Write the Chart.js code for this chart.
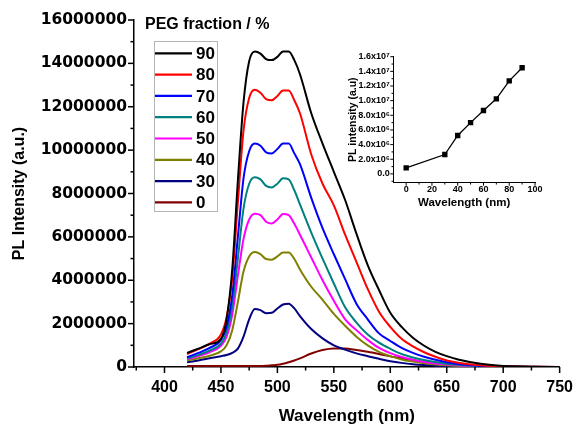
<!DOCTYPE html>
<html><head><meta charset="utf-8">
<script src="https://cdn.jsdelivr.net/npm/chart.js@4.4.0/dist/chart.umd.min.js"></script>
<style>
html,body{margin:0;padding:0;background:#fff;}
#wrap{position:relative;width:578px;height:427px;overflow:hidden;}
#main{position:absolute;left:0;top:0;}
#inset{position:absolute;left:330px;top:45px;}
</style></head><body>
<div id="wrap"><canvas id="main" width="578" height="427"></canvas><canvas id="inset" width="215" height="170"></canvas></div>
<script>
// ---------- main chart data ----------
const wavelengths = [420,430,440,450,455,460,465,470,475,480,485,490,495,500,505,510,515,520,530,540,550,560,570,580,590,600,610,620,630,640,650,660,680,700,750];
const seriesLabels = ['90','80','70','60','50','40','30','0'];
const seriesColors = ['#000000','#ff0000','#0000ff','#008080','#ff00ff','#808000','#000080','#800000'];
const peg90 = [0.65e6,0.85e6,1.05e6,1.3e6,2.2e6,4.5e6,8.6e6,12.2e6,14.1e6,14.55e6,14.45e6,14.2e6,14.15e6,14.3e6,14.55e6,14.55e6,14.15e6,13.5e6,11.7e6,10.3e6,9.0e6,7.7e6,6.15e6,4.7e6,3.55e6,2.5e6,1.85e6,1.35e6,0.98e6,0.7e6,0.5e6,0.35e6,0.15e6,0.05e6,0];
const peg80 = [0.6e6,0.82e6,1.08e6,1.5e6,2.3e6,4.1e6,7.6e6,10.9e6,12.4e6,12.78e6,12.65e6,12.35e6,12.3e6,12.5e6,12.75e6,12.75e6,12.3e6,11.7e6,9.8e6,8.45e6,7.45e6,6.1e6,4.85e6,3.6e6,2.55e6,1.85e6,1.3e6,0.95e6,0.68e6,0.47e6,0.3e6,0.2e6,0.08e6,0.03e6,0];
const peg70 = [0.45e6,0.65e6,0.88e6,1.25e6,1.85e6,3.3e6,6.0e6,8.7e6,9.95e6,10.3e6,10.2e6,9.9e6,9.85e6,10.05e6,10.3e6,10.3e6,9.85e6,9.35e6,7.8e6,6.4e6,5.2e6,4.05e6,2.92e6,2.2e6,1.55e6,1.2e6,0.88e6,0.65e6,0.47e6,0.33e6,0.22e6,0.14e6,0.05e6,0.02e6,0];
const peg60 = [0.4e6,0.56e6,0.76e6,1.08e6,1.6e6,2.8e6,5.0e6,7.3e6,8.45e6,8.75e6,8.65e6,8.35e6,8.28e6,8.45e6,8.7e6,8.65e6,8.15e6,7.5e6,6.2e6,5.0e6,3.85e6,2.75e6,2.05e6,1.5e6,1.12e6,0.84e6,0.6e6,0.44e6,0.32e6,0.23e6,0.15e6,0.1e6,0.04e6,0.02e6,0];
const peg50 = [0.35e6,0.5e6,0.68e6,0.98e6,1.4e6,2.4e6,4.2e6,5.9e6,6.8e6,7.07e6,7.0e6,6.7e6,6.62e6,6.8e6,7.05e6,7.0e6,6.6e6,6.1e6,5.05e6,4.0e6,3.05e6,2.2e6,1.7e6,1.25e6,0.88e6,0.64e6,0.46e6,0.33e6,0.23e6,0.16e6,0.11e6,0.07e6,0.03e6,0.01e6,0];
const peg40 = [0.3e6,0.4e6,0.52e6,0.72e6,1.0e6,1.7e6,3.0e6,4.4e6,5.1e6,5.3e6,5.2e6,4.98e6,4.95e6,5.1e6,5.28e6,5.28e6,4.98e6,4.5e6,3.7e6,3.1e6,2.45e6,1.9e6,1.4e6,1.0e6,0.7e6,0.5e6,0.35e6,0.25e6,0.17e6,0.12e6,0.08e6,0.05e6,0.02e6,0.01e6,0];
const peg30 = [0.22e6,0.3e6,0.4e6,0.5e6,0.55e6,0.65e6,0.85e6,1.4e6,2.2e6,2.68e6,2.62e6,2.48e6,2.5e6,2.7e6,2.88e6,2.92e6,2.7e6,2.35e6,1.75e6,1.32e6,1.0e6,0.8e6,0.63e6,0.5e6,0.38e6,0.27e6,0.19e6,0.13e6,0.09e6,0.06e6,0.04e6,0.03e6,0.01e6,0,0];
const peg0  = [0.05e6,0.05e6,0.05e6,0.05e6,0.05e6,0.05e6,0.05e6,0.05e6,0.05e6,0.05e6,0.05e6,0.06e6,0.08e6,0.1e6,0.15e6,0.22e6,0.3e6,0.4e6,0.62e6,0.78e6,0.85e6,0.85e6,0.78e6,0.7e6,0.6e6,0.49e6,0.4e6,0.32e6,0.24e6,0.18e6,0.13e6,0.09e6,0.04e6,0.02e6,0];
const seriesValues = [peg90,peg80,peg70,peg60,peg50,peg40,peg30,peg0];
const mainXTicks = [400,450,500,550,600,650,700,750];
const mainXTickLabels = ['400','450','500','550','600','650','700','750'];
const mainYTicks = [0,2000000,4000000,6000000,8000000,10000000,12000000,14000000,16000000];
const mainYTickLabels = ['0','2000000','4000000','6000000','8000000','10000000','12000000','14000000','16000000'];

// ---------- inset data ----------
const pegFractions = [0,30,40,50,60,70,80,90];
const peakIntensity = [0.82e6,2.65e6,5.25e6,7.0e6,8.65e6,10.25e6,12.7e6,14.5e6];
const insetXTicks = [0,20,40,60,80,100];
const insetXTickLabels = ['0','20','40','60','80','100'];
const insetYTicks = [0,2e6,4e6,6e6,8e6,10e6,12e6,14e6,16e6];
const insetYTickLabels = ['0.0','2.0x10\u2076','4.0x10\u2076','6.0x10\u2076','8.0x10\u2076','1.0x10\u2077','1.2x10\u2077','1.4x10\u2077','1.6x10\u2077'];

const ARIAL = "'Liberation Sans', Arial, sans-serif";

const tickMarks = {
  id: 'tickMarks',
  afterDatasetsDraw(chart, args, opts) {
    const ctx = chart.ctx;
    ctx.save(); ctx.strokeStyle = '#000';
    for (const id of Object.keys(opts.scales || {})) {
      const cfg = opts.scales[id];
      const s = chart.scales[id]; if (!s) continue;
      ctx.lineWidth = cfg.width;
      const vals = s.ticks.map(t => t.value);
      const step = vals[1] - vals[0];
      const draw = (v, len) => {
        const p = s.getPixelForValue(v);
        ctx.beginPath();
        if (s.isHorizontal()) { ctx.moveTo(p, s.top); ctx.lineTo(p, s.top + len); }
        else { ctx.moveTo(s.right, p); ctx.lineTo(s.right - len, p); }
        ctx.stroke();
      };
      vals.forEach(v => draw(v, cfg.major));
      for (let v = vals[0] - step / 2; v <= s.max + 1e-6; v += step) if (v > s.min + 1e-6) draw(v, cfg.minor);
    }
    ctx.restore();
  }
};

const boxLegend = {
  id: 'boxLegend',
  afterDraw(chart, args, o) {
    if (!o.show) return;
    const ctx = chart.ctx; ctx.save();
    ctx.fillStyle = '#000'; ctx.textBaseline = 'middle'; ctx.textAlign = 'left';
    ctx.font = o.titleFont; ctx.fillText(o.title, o.titleX, o.titleY);
    ctx.strokeStyle = o.borderColor; ctx.lineWidth = 1;
    ctx.strokeRect(o.left + 0.5, o.top + 0.5, o.width, o.height);
    chart.data.datasets.forEach((ds, i) => {
      const y = o.firstRow + i * o.rowGap;
      ctx.strokeStyle = ds.borderColor; ctx.lineWidth = 2.2;
      ctx.beginPath(); ctx.moveTo(o.lineX0, y); ctx.lineTo(o.lineX1, y); ctx.stroke();
      ctx.font = o.font; ctx.fillStyle = '#000'; ctx.fillText(ds.label, o.textX, y + 1);
    });
    ctx.restore();
  }
};

new Chart(document.getElementById('main'), {
  type: 'line',
  data: {
    datasets: seriesLabels.map((lab, k) => ({
      label: lab,
      data: wavelengths.map((w, i) => ({ x: w, y: seriesValues[k][i] })),
      borderColor: seriesColors[k], backgroundColor: seriesColors[k],
      borderWidth: 2, pointRadius: 0, fill: false,
      cubicInterpolationMode: 'monotone'
    }))
  },
  options: {
    responsive: false, animation: false, devicePixelRatio: 1,
    layout: { padding: { left: 0, top: 20, right: 18, bottom: 0 } },
    plugins: {
      legend: { display: false }, tooltip: { enabled: false },
      tickMarks: { scales: { x: { major: 6, minor: 3.5, width: 1.5 }, y: { major: 6, minor: 3.5, width: 1.5 } } },
      boxLegend: {
        show: true, title: 'PEG fraction / %', titleFont: 'bold 16px ' + ARIAL, titleX: 145, titleY: 25,
        left: 154, top: 41, width: 63, height: 170, borderColor: '#b5b5b5',
        firstRow: 53.3, rowGap: 21.3, lineX0: 155, lineX1: 192, textX: 196, font: 'bold 17px ' + ARIAL
      }
    },
    scales: {
      x: {
        type: 'linear', min: 373, max: 750,
        afterBuildTicks: s => { s.ticks = mainXTicks.map(v => ({ value: v })); },
        afterFit: s => { s.height = 60; },
        border: { display: true, color: '#000', width: 1.5 },
        grid: { display: false, drawTicks: true, tickLength: 6 },
        ticks: { color: '#000', padding: 5, maxRotation: 0, autoSkip: false,
          font: { family: ARIAL, weight: 'bold', size: 16 },
          callback: (v, i) => mainXTickLabels[i] },
        title: { display: true, text: 'Wavelength (nm)', color: '#000', padding: { top: 0, bottom: 0 },
          font: { family: ARIAL, weight: 'bold', size: 17 } }
      },
      y: {
        type: 'linear', min: 0, max: 16000000,
        afterBuildTicks: s => { s.ticks = mainYTicks.map(v => ({ value: v })); },
        afterFit: s => { s.width = 134; },
        border: { display: true, color: '#000', width: 1.5 },
        grid: { display: false, drawTicks: true, tickLength: 6 },
        ticks: { color: '#000', padding: 1, autoSkip: false,
          font: { family: "'DejaVu Sans', sans-serif", weight: 'bold', size: 15.5 },
          callback: (v, i) => mainYTickLabels[i] },
        title: { display: true, text: 'PL Intensity (a.u.)', color: '#000', padding: { top: 10, bottom: 0 },
          font: { family: ARIAL, weight: 'bold', size: 16 } }
      }
    }
  },
  plugins: [tickMarks, boxLegend]
});

new Chart(document.getElementById('inset'), {
  type: 'line',
  data: {
    datasets: [{
      label: 'PL intensity',
      data: pegFractions.map((f, i) => ({ x: f, y: peakIntensity[i] })),
      borderColor: '#000', backgroundColor: '#000', borderWidth: 1.3,
      pointStyle: 'rect', pointRadius: 3.8, pointBorderWidth: 0, tension: 0
    }]
  },
  options: {
    responsive: false, animation: false, devicePixelRatio: 1,
    layout: { padding: { left: 0, top: 11.7, right: 10, bottom: 0 } },
    plugins: {
      legend: { display: false }, tooltip: { enabled: false },
      tickMarks: { scales: { x: { major: 3, minor: 1.8, width: 1 }, y: { major: 3, minor: 1.8, width: 1 } } },
      boxLegend: { show: false }
    },
    scales: {
      x: {
        type: 'linear', min: -10, max: 100,
        afterBuildTicks: s => { s.ticks = insetXTicks.map(v => ({ value: v })); },
        afterFit: s => { s.height = 32.3; },
        border: { display: true, color: '#000', width: 1 },
        grid: { display: false, drawTicks: true, tickLength: 1 },
        ticks: { color: '#000', padding: 0, maxRotation: 0, autoSkip: false,
          font: { family: ARIAL, weight: 'bold', size: 9 },
          callback: (v, i) => insetXTickLabels[i] },
        title: { display: true, text: 'Wavelength (nm)', color: '#000', padding: { top: 0, bottom: 5.4 },
          font: { family: ARIAL, weight: 'bold', size: 11.5 } }
      },
      y: {
        type: 'linear', min: -1200000, max: 16000000,
        afterBuildTicks: s => { s.ticks = insetYTicks.map(v => ({ value: v })); },
        afterFit: s => { s.width = 63.3; },
        border: { display: true, color: '#000', width: 1 },
        grid: { display: false, drawTicks: true, tickLength: 3 },
        ticks: { color: '#000', padding: 0.5, autoSkip: false,
          font: { family: ARIAL, weight: 'bold', size: 9 },
          callback: (v, i) => insetYTickLabels[i] },
        title: { display: true, text: 'PL intensity (a.u)', color: '#000', padding: { top: 16.5, bottom: 0 },
          font: { family: ARIAL, weight: 'bold', size: 10.5 } }
      }
    }
  },
  plugins: [tickMarks]
});
</script>
</body></html>
